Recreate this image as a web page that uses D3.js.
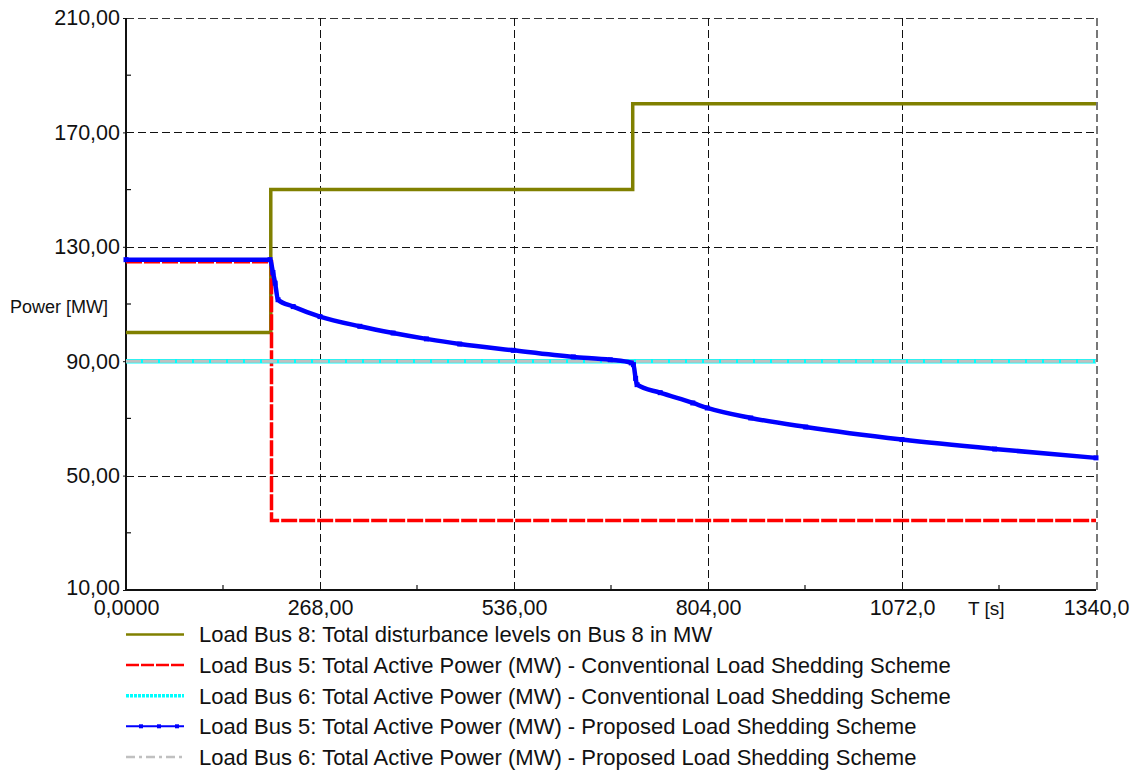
<!DOCTYPE html>
<html>
<head>
<meta charset="utf-8">
<script src="https://cdn.jsdelivr.net/npm/d3@7"></script>
<style>
  html, body { margin: 0; padding: 0; background: #fff; }
  svg { display: block; font-family: "Liberation Sans", Arial, sans-serif; }
</style>
</head>
<body>
<svg id="chart" width="1136" height="771"></svg>
<script>
// Time axis ticks and labels (decimal comma)
const xTicks = [0, 268, 536, 804, 1072, 1340];
const xTickLabels = ["0,0000", "268,00", "536,00", "804,00", "1072,0", "1340,0"];
const yTicks = [10, 50, 90, 130, 170, 210];
const yTickLabels = ["10,00", "50,00", "90,00", "130,00", "170,00", "210,00"];

// Load Bus 8 disturbance level (step changes)
const bus8T = [0, 200, 700, 1340];
const bus8V = [100, 150, 180, 180];

// Load Bus 5, conventional scheme (step)
const bus5ConvT = [0, 201, 1340];
const bus5ConvV = [124.8, 34.3, 34.3];

// Load Bus 6, conventional scheme
const bus6ConvT = [0, 1340];
const bus6ConvV = [90, 90];

// Load Bus 5, proposed scheme
const bus5PropT = [0, 199, 203, 206, 210, 231, 268, 323, 369, 415, 461, 535, 618, 669, 698, 701, 704, 706, 738, 783, 803, 863, 939, 1072, 1200, 1340];
const bus5PropV = [125.5, 125.5, 121, 117.3, 111.5, 109.1, 105.6, 102.2, 99.85, 97.8, 96.0, 93.8, 91.5, 90.5, 89.4, 88.8, 84.0, 81.8, 79.0, 75.4, 73.65, 70.15, 67.0, 62.6, 59.3, 56.2];

// Load Bus 6, proposed scheme
const bus6PropT = [0, 1340];
const bus6PropV = [90, 90];

const legendLabels = [
  "Load Bus 8: Total disturbance levels on Bus 8 in MW",
  "Load Bus 5: Total Active Power (MW) - Conventional Load Shedding Scheme",
  "Load Bus 6: Total Active Power (MW) - Conventional Load Shedding Scheme",
  "Load Bus 5: Total Active Power (MW) - Proposed Load Shedding Scheme",
  "Load Bus 6: Total Active Power (MW) - Proposed Load Shedding Scheme"
];

(function draw() {
  const svg = d3.select("#chart");
  const plotLeft = 126, plotRight = 1096, plotTop = 18, plotBottom = 590;

  const x = d3.scaleLinear().domain([0, 1340]).range([plotLeft, plotRight]);
  const y = d3.scaleLinear().domain([10, 210]).range([plotBottom, plotTop]);

  const zip = (t, v) => t.map((d, i) => ({ t: d, v: v[i] }));
  const crisp = p => Math.round(p) + 0.5;

  // Grid (dashed)
  const grid = svg.append("g").attr("shape-rendering", "crispEdges");
  yTicks.slice(1).forEach(v => {
    grid.append("line")
      .attr("x1", plotLeft).attr("x2", plotRight)
      .attr("y1", crisp(y(v))).attr("y2", crisp(y(v)))
      .attr("stroke", v === 210 ? "#333" : "#111")
      .attr("stroke-width", 1)
      .attr("stroke-dasharray", "8,4");
  });
  xTicks.slice(1).forEach(t => {
    grid.append("line")
      .attr("x1", crisp(x(t))).attr("x2", crisp(x(t)))
      .attr("y1", plotTop).attr("y2", plotBottom)
      .attr("stroke", t === 1340 ? "#777" : "#111")
      .attr("stroke-width", t === 1340 ? 2 : 1)
      .attr("stroke-dasharray", "8,4");
  });

  // Axes
  const xAxis = d3.axisBottom(x).tickValues(xTicks)
    .tickFormat((d, i) => xTickLabels[i]).tickSize(0).tickPadding(10);
  const yAxis = d3.axisLeft(y).tickValues(yTicks)
    .tickFormat((d, i) => yTickLabels[i]).tickSize(3).tickPadding(3);

  const gx = svg.append("g").attr("transform", `translate(0,${plotBottom})`).call(xAxis);
  const gy = svg.append("g").attr("transform", `translate(${plotLeft},0)`).call(yAxis);
  [gx, gy].forEach(g => {
    g.select(".domain").attr("stroke", "#111").attr("stroke-width", 2);
    g.selectAll(".tick line").attr("stroke", "#111");
    g.selectAll("text").attr("font-size", 21.5).attr("fill", "#111")
      .attr("font-family", "'Liberation Sans', Arial, sans-serif");
  });
  gx.select(".domain").attr("d", `M${plotLeft},0H${plotRight}`);
  gy.select(".domain").attr("d", `M0,${plotBottom}V${plotTop}`);
  // lowest y label sits a touch higher so it clears the time labels
  gy.selectAll(".tick text").filter(d => d === 10).attr("dy", "0.2em");

  // Minor ticks at the midpoints between major ticks
  const minorX = d3.pairs(xTicks).map(([a, b]) => (a + b) / 2);
  const minorY = d3.pairs(yTicks).map(([a, b]) => (a + b) / 2);
  svg.append("g").selectAll("line").data(minorX).join("line")
    .attr("x1", d => x(d)).attr("x2", d => x(d))
    .attr("y1", plotBottom).attr("y2", plotBottom - 5)
    .attr("stroke", "#111").attr("stroke-width", 1.2);
  svg.append("g").selectAll("line").data(minorY).join("line")
    .attr("x1", plotLeft).attr("x2", plotLeft + 5)
    .attr("y1", d => y(d)).attr("y2", d => y(d))
    .attr("stroke", "#111").attr("stroke-width", 1.2);

  // Axis titles
  svg.append("text").attr("x", 10).attr("y", 313)
    .attr("font-size", 18).attr("fill", "#111").text("Power [MW]");
  svg.append("text").attr("x", 968).attr("y", 615)
    .attr("font-size", 19).attr("fill", "#111").text("T [s]");

  // Series
  const stepLine = d3.line().x(d => x(d.t)).y(d => y(d.v)).curve(d3.curveStepAfter);
  const smoothLine = d3.line().x(d => x(d.t)).y(d => y(d.v)).curve(d3.curveMonotoneX);
  const plainLine = d3.line().x(d => x(d.t)).y(d => y(d.v));

  const plot = svg.append("g");

  plot.append("path").datum(zip(bus8T, bus8V))
    .attr("d", stepLine).attr("fill", "none")
    .attr("stroke", "#808000").attr("stroke-width", 3.5);

  plot.append("path").datum(zip(bus5ConvT, bus5ConvV))
    .attr("d", stepLine).attr("fill", "none")
    .attr("stroke", "#ff0000").attr("stroke-width", 3.5)
    .attr("stroke-dasharray", "16,2");

  plot.append("path").datum(zip(bus6ConvT, bus6ConvV))
    .attr("d", plainLine).attr("fill", "none")
    .attr("stroke", "#00ffff").attr("stroke-width", 4.5);

  plot.append("path").datum(zip(bus6PropT, bus6PropV))
    .attr("d", plainLine).attr("fill", "none")
    .attr("stroke", "#c0c0c0").attr("stroke-width", 3)
    .attr("stroke-dasharray", "15,2");

  const bus5Prop = zip(bus5PropT, bus5PropV);
  plot.append("path").datum(bus5Prop)
    .attr("d", smoothLine).attr("fill", "none")
    .attr("stroke", "#0000ff").attr("stroke-width", 4.5)
    .attr("stroke-linejoin", "round");
  plot.append("g").selectAll("rect").data(bus5Prop).join("rect")
    .attr("x", d => x(d.t) - 2.5).attr("y", d => y(d.v) - 2.5)
    .attr("width", 5).attr("height", 5).attr("fill", "#0000ff");

  // Legend
  const legend = svg.append("g");
  const rowY = i => 634.5 + i * 30.6;
  const lx1 = 126, lx2 = 184;
  legendLabels.forEach((label, i) => {
    legend.append("text").attr("x", 199).attr("y", rowY(i) + 7.8)
      .attr("font-size", 22).attr("fill", "#111").text(label);
  });
  legend.append("line").attr("x1", lx1).attr("x2", lx2).attr("y1", rowY(0)).attr("y2", rowY(0))
    .attr("stroke", "#808000").attr("stroke-width", 2.5);
  legend.append("line").attr("x1", lx1).attr("x2", lx2).attr("y1", rowY(1)).attr("y2", rowY(1))
    .attr("stroke", "#ff0000").attr("stroke-width", 2.5).attr("stroke-dasharray", "13,2");
  legend.append("line").attr("x1", lx1).attr("x2", lx2).attr("y1", rowY(2)).attr("y2", rowY(2))
    .attr("stroke", "#00ffff").attr("stroke-width", 3.5).attr("stroke-dasharray", "3,1");
  legend.append("line").attr("x1", lx1).attr("x2", lx2).attr("y1", rowY(3)).attr("y2", rowY(3))
    .attr("stroke", "#0000ff").attr("stroke-width", 2);
  [141, 159, 177].forEach(px => {
    legend.append("rect").attr("x", px - 2).attr("y", rowY(3) - 2)
      .attr("width", 4).attr("height", 4).attr("fill", "#0000ff");
  });
  legend.append("line").attr("x1", lx1).attr("x2", lx2).attr("y1", rowY(4)).attr("y2", rowY(4))
    .attr("stroke", "#c0c0c0").attr("stroke-width", 2.5).attr("stroke-dasharray", "9,4,3,4");
})();
</script>
</body>
</html>
